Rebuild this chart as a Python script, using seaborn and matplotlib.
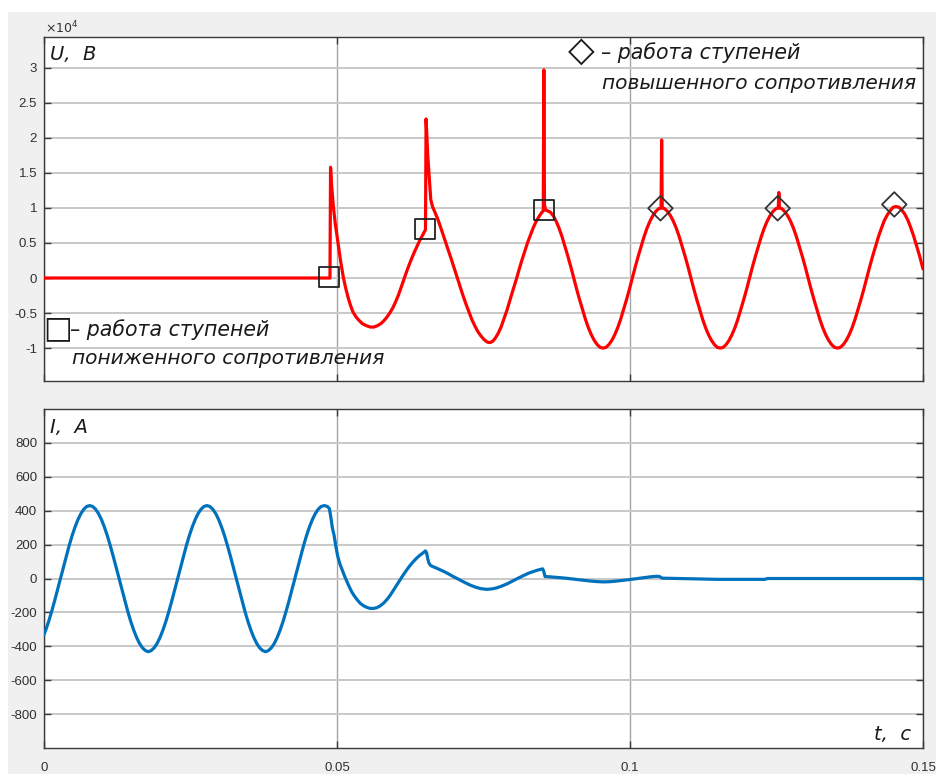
import matplotlib
matplotlib.use("Agg")
import matplotlib.pyplot as plt
import seaborn as sns
import pandas as pd
from matplotlib.patches import Rectangle

# ---------------- data ----------------
# Voltage U, in units of 1e4 V : (t [s], U)
u_transient = [
    (0.0000, 0.00), (0.0488, 0.00), (0.0489, 1.58), (0.0491, 1.30), (0.0494, 1.00),
    (0.0497, 0.78), (0.0501, 0.54), (0.0506, 0.25), (0.0511, 0.00), (0.0515, -0.15),
    (0.0519, -0.28), (0.0523, -0.39), (0.0527, -0.48), (0.0532, -0.55), (0.0537, -0.60),
    (0.0543, -0.65), (0.0550, -0.68), (0.0557, -0.70), (0.0563, -0.70), (0.0569, -0.68),
    (0.0575, -0.65), (0.0580, -0.61), (0.0585, -0.56), (0.0590, -0.50), (0.0595, -0.43),
    (0.0600, -0.34), (0.0605, -0.24), (0.0610, -0.12), (0.0614, -0.02), (0.0620, 0.12),
    (0.0626, 0.25), (0.0632, 0.37), (0.0638, 0.48), (0.0642, 0.55), (0.0646, 0.61),
    (0.0651, 0.69), (0.0652, 2.27), (0.0655, 1.73), (0.0660, 1.12), (0.0663, 1.02),
    (0.0667, 0.94), (0.0672, 0.84), (0.0677, 0.72), (0.0683, 0.57), (0.0689, 0.42),
    (0.0695, 0.27), (0.0700, 0.14), (0.0705, 0.01), (0.0710, -0.12), (0.0715, -0.25),
    (0.0720, -0.37), (0.0725, -0.48), (0.0730, -0.59), (0.0735, -0.68), (0.0740, -0.76),
    (0.0745, -0.82), (0.0750, -0.87), (0.0754, -0.90), (0.0758, -0.92), (0.0762, -0.92),
    (0.0766, -0.90), (0.0770, -0.86), (0.0775, -0.79), (0.0780, -0.70), (0.0785, -0.58),
    (0.0790, -0.46), (0.0795, -0.32), (0.0800, -0.18), (0.0806, -0.02), (0.0810, 0.10),
    (0.0815, 0.24), (0.0820, 0.37), (0.0825, 0.50), (0.0830, 0.61), (0.0835, 0.72),
    (0.0840, 0.81), (0.0845, 0.88), (0.0849, 0.93), (0.0852, 0.96), (0.0853, 2.97),
    (0.0854, 1.05), (0.0856, 0.97),
]
u_cycle1 = [
    (0.0859, 0.96), (0.0864, 0.94), (0.0869, 0.89), (0.0874, 0.81), (0.0879, 0.71),
    (0.0884, 0.59), (0.0889, 0.45), (0.0894, 0.31), (0.0899, 0.16), (0.0904, 0.00),
    (0.0909, -0.16), (0.0914, -0.31), (0.0919, -0.45), (0.0924, -0.59), (0.0929, -0.71),
    (0.0934, -0.81), (0.0939, -0.89), (0.0944, -0.95), (0.0949, -0.99), (0.0954, -1.00),
    (0.0959, -0.99), (0.0964, -0.95), (0.0969, -0.89), (0.0974, -0.81), (0.0979, -0.71),
    (0.0984, -0.59), (0.0989, -0.45), (0.0994, -0.31), (0.0999, -0.16), (0.1004, 0.00),
    (0.1009, 0.16), (0.1014, 0.31), (0.1019, 0.45), (0.1024, 0.59), (0.1029, 0.71),
    (0.1034, 0.81), (0.1039, 0.89), (0.1044, 0.95), (0.1049, 0.99), (0.1053, 1.00),
    (0.1054, 1.97), (0.1055, 1.00),
]
u_cycle2 = [
    (0.1059, 0.99), (0.1064, 0.95), (0.1069, 0.89), (0.1074, 0.81), (0.1079, 0.71),
    (0.1084, 0.59), (0.1089, 0.45), (0.1094, 0.31), (0.1099, 0.16), (0.1104, 0.00),
    (0.1109, -0.16), (0.1114, -0.31), (0.1119, -0.45), (0.1124, -0.59), (0.1129, -0.71),
    (0.1134, -0.81), (0.1139, -0.89), (0.1144, -0.95), (0.1149, -0.99), (0.1154, -1.00),
    (0.1159, -0.99), (0.1164, -0.95), (0.1169, -0.89), (0.1174, -0.81), (0.1179, -0.71),
    (0.1184, -0.59), (0.1189, -0.45), (0.1194, -0.31), (0.1199, -0.16), (0.1204, 0.00),
    (0.1209, 0.16), (0.1214, 0.31), (0.1219, 0.45), (0.1224, 0.59), (0.1229, 0.71),
    (0.1234, 0.81), (0.1239, 0.89), (0.1244, 0.95), (0.1249, 0.99), (0.1253, 1.00),
    (0.1254, 1.22), (0.1255, 1.00),
]
u_cycle3 = [
    (0.1259, 0.99), (0.1264, 0.95), (0.1269, 0.89), (0.1274, 0.81), (0.1279, 0.71),
    (0.1284, 0.59), (0.1289, 0.45), (0.1294, 0.31), (0.1299, 0.16), (0.1304, 0.00),
    (0.1309, -0.16), (0.1314, -0.31), (0.1319, -0.45), (0.1324, -0.59), (0.1329, -0.71),
    (0.1334, -0.81), (0.1339, -0.89), (0.1344, -0.95), (0.1349, -0.99), (0.1354, -1.00),
    (0.1359, -0.99), (0.1364, -0.95), (0.1369, -0.89), (0.1374, -0.81), (0.1379, -0.71),
    (0.1384, -0.59), (0.1389, -0.45), (0.1394, -0.31), (0.1399, -0.16), (0.1404, 0.00),
    (0.1409, 0.16), (0.1414, 0.31), (0.1419, 0.45), (0.1424, 0.59), (0.1429, 0.71),
    (0.1434, 0.82), (0.1439, 0.90), (0.1444, 0.96), (0.1449, 1.01), (0.1454, 1.02),
    (0.1459, 1.01), (0.1464, 0.97), (0.1469, 0.91), (0.1474, 0.83), (0.1479, 0.72),
    (0.1484, 0.60), (0.1489, 0.46), (0.1494, 0.32), (0.1500, 0.13),
]

# Current I, A : (t [s], I)
i_before = [
    (0.0000, -331), (0.0003, -304), (0.0008, -253), (0.0013, -195), (0.0018, -133),
    (0.0023, -67), (0.0028, 0), (0.0033, 67), (0.0038, 133), (0.0043, 195),
    (0.0048, 253), (0.0053, 304), (0.0058, 348), (0.0063, 383), (0.0068, 409),
    (0.0073, 425), (0.0078, 430), (0.0083, 425), (0.0088, 409), (0.0093, 383),
    (0.0098, 348), (0.0103, 304), (0.0108, 253), (0.0113, 195), (0.0118, 133),
    (0.0123, 67), (0.0128, 0), (0.0133, -67), (0.0138, -133), (0.0143, -195),
    (0.0148, -253), (0.0153, -304), (0.0158, -348), (0.0163, -383), (0.0168, -409),
    (0.0173, -425), (0.0178, -432), (0.0183, -425), (0.0188, -409), (0.0193, -383),
    (0.0198, -348), (0.0203, -304), (0.0208, -253), (0.0213, -195), (0.0218, -133),
    (0.0223, -67), (0.0228, 0), (0.0233, 67), (0.0238, 133), (0.0243, 195),
    (0.0248, 253), (0.0253, 304), (0.0258, 348), (0.0263, 383), (0.0268, 409),
    (0.0273, 425), (0.0278, 430), (0.0283, 425), (0.0288, 409), (0.0293, 383),
    (0.0298, 348), (0.0303, 304), (0.0308, 253), (0.0313, 195), (0.0318, 133),
    (0.0323, 67), (0.0328, 0), (0.0333, -67), (0.0338, -133), (0.0343, -195),
    (0.0348, -253), (0.0353, -304), (0.0358, -348), (0.0363, -383), (0.0368, -409),
    (0.0373, -425), (0.0378, -432), (0.0383, -425), (0.0388, -409), (0.0393, -383),
    (0.0398, -348), (0.0403, -304), (0.0408, -253), (0.0413, -195), (0.0418, -133),
    (0.0423, -67), (0.0428, 0), (0.0433, 67), (0.0438, 133), (0.0443, 195),
    (0.0448, 253), (0.0453, 304), (0.0458, 348), (0.0463, 383), (0.0468, 409),
    (0.0473, 425), (0.0478, 430),
]
i_after = [
    (0.0481, 428), (0.0484, 424), (0.0487, 412), (0.0490, 350), (0.0492, 300),
    (0.0495, 255), (0.0498, 190), (0.0501, 135), (0.0505, 85), (0.0509, 50),
    (0.0514, 5), (0.0520, -42), (0.0525, -78), (0.0530, -105), (0.0535, -128),
    (0.0540, -147), (0.0545, -160), (0.0550, -169), (0.0556, -176), (0.0562, -177),
    (0.0568, -172), (0.0573, -163), (0.0579, -147), (0.0585, -125), (0.0591, -98),
    (0.0597, -66), (0.0603, -33), (0.0610, 5), (0.0616, 36), (0.0622, 65),
    (0.0628, 91), (0.0635, 117), (0.0640, 133), (0.0645, 146), (0.0649, 157),
    (0.0651, 163), (0.0653, 150), (0.0655, 115), (0.0657, 90), (0.0660, 76),
    (0.0665, 68), (0.0670, 61), (0.0675, 53), (0.0682, 42), (0.0690, 28),
    (0.0697, 14), (0.0705, 0), (0.0712, -13), (0.0720, -27), (0.0728, -40),
    (0.0738, -53), (0.0746, -60), (0.0755, -64), (0.0763, -62), (0.0772, -56),
    (0.0781, -45), (0.0790, -32), (0.0799, -16), (0.0808, 0), (0.0817, 15),
    (0.0826, 30), (0.0834, 40), (0.0842, 49), (0.0848, 54), (0.0851, 57),
    (0.0853, 40), (0.0855, 12), (0.0870, 8), (0.0890, 2), (0.0910, -6),
    (0.0930, -14), (0.0942, -18), (0.0954, -20), (0.0965, -19), (0.0975, -16),
    (0.0988, -11), (0.1000, -6), (0.1013, 0), (0.1025, 6), (0.1035, 10),
    (0.1045, 13), (0.1050, 12), (0.1055, 2), (0.1080, 0), (0.1100, -2),
    (0.1150, -5), (0.1230, -5), (0.1235, 0), (0.1500, 0),
]

# Marked points
low_t = [0.0487, 0.0650, 0.0853]     # squares: low-resistance steps
low_u = [0.01, 0.70, 0.97]
high_t = [0.1052, 0.1252, 0.1451]    # diamonds: high-resistance steps
high_u = [0.995, 0.995, 1.05]

x_ticks = [0, 0.05, 0.1, 0.15]
x_labels = ["0", "0.05", "0.1", "0.15"]
u_ticks = [-1, -0.5, 0, 0.5, 1, 1.5, 2, 2.5, 3]
u_labels = ["-1", "-0.5", "0", "0.5", "1", "1.5", "2", "2.5", "3"]
i_ticks = [-800, -600, -400, -200, 0, 200, 400, 600, 800]
i_labels = ["-800", "-600", "-400", "-200", "0", "200", "400", "600", "800"]

# ---------------- style ----------------
sns.set_style("white")
plt.rcParams["font.family"] = ["Liberation Sans", "DejaVu Sans"]
plt.rcParams["axes.unicode_minus"] = False

W, H = 937, 774
fig = plt.figure(figsize=(W / 100, H / 100), dpi=100)
fig.patch.set_facecolor("#f0f0f0")
fig.patches.append(Rectangle((0, 1 - 12 / H), 1, 12 / H, transform=fig.transFigure,
                             facecolor="white", edgecolor="none", zorder=-5))
fig.patches.append(Rectangle((0, 0), 8 / W, 1, transform=fig.transFigure,
                             facecolor="white", edgecolor="none", zorder=-5))


def axes_px(left, top, right, bottom):
    return fig.add_axes([left / W, 1 - bottom / H, (right - left) / W, (bottom - top) / H])


ax1 = axes_px(44, 37, 923, 381)
ax2 = axes_px(44, 409, 923, 748)

df_u = pd.DataFrame(u_transient + u_cycle1 + u_cycle2 + u_cycle3, columns=["t", "U"])
df_i = pd.DataFrame(i_before + i_after, columns=["t", "I"])

sns.lineplot(data=df_u, x="t", y="U", ax=ax1, color="#ff0000", linewidth=2.3,
             estimator=None, sort=False, zorder=3)
sns.scatterplot(x=low_t, y=low_u, ax=ax1, marker="s", s=14.4 ** 2,
                facecolor="none", edgecolor="#222222", linewidth=1.3, zorder=4)
sns.scatterplot(x=high_t, y=high_u, ax=ax1, marker="D", s=12.5 ** 2,
                facecolor="none", edgecolor="#333333", linewidth=1.3, zorder=4)

sns.lineplot(data=df_i, x="t", y="I", ax=ax2, color="#0072BD", linewidth=2.3,
             estimator=None, sort=False, zorder=3)

for ax, yt, yl, ylim in [(ax1, u_ticks, u_labels, (-1.47, 3.44)),
                         (ax2, i_ticks, i_labels, (-1000, 1000))]:
    ax.set_xlim(0, 0.15)
    ax.set_ylim(*ylim)
    ax.set_xticks(x_ticks)
    ax.set_yticks(yt)
    ax.set_yticklabels(yl)
    ax.set_xlabel("")
    ax.set_ylabel("")
    ax.set_facecolor("white")
    ax.set_axisbelow(True)
    ax.yaxis.grid(True, color="#c8c8c8", linewidth=1.4)
    ax.xaxis.grid(True, color="#a4a4a4", linewidth=1.0)
    for sp in ax.spines.values():
        sp.set_visible(True)
        sp.set_color("#3a3a3a")
        sp.set_linewidth(1.0)
    ax.tick_params(axis="both", direction="in", length=5, width=1.0, color="#3a3a3a",
                   labelsize=9.5, labelcolor="#303030", left=True, right=True,
                   top=True, bottom=True)
    ax.tick_params(axis="y", pad=5)
    ax.tick_params(axis="x", pad=10)

ax1.set_xticklabels([])
ax2.set_xticklabels(x_labels)


def ftxt(x, y, s, **kw):
    kw.setdefault("va", "baseline")
    kw.setdefault("ha", "left")
    kw.setdefault("color", "#1a1a1a")
    fig.text(x / W, 1 - y / H, s, **kw)


gost = dict(family=["DejaVu Sans"], style="italic")
ftxt(45, 33, r"$\times10^{4}$", fontsize=9, color="#333333")
ftxt(50, 60, "U,  B", fontsize=14, **gost)
ftxt(50, 433, "I,  A", fontsize=14, **gost)
ftxt(874, 740, "t,  c", fontsize=14, **gost)

ftxt(581, 51, "◇", fontsize=25, ha="center", va="center", family=["DejaVu Sans"])
ftxt(601, 59, "– работа ступеней", fontsize=14.8, **gost)
ftxt(602, 89, "повышенного сопротивления", fontsize=14.5, **gost)

ftxt(58, 329, "□", fontsize=22, ha="center", va="center", family=["DejaVu Sans"])
ftxt(70, 336, "– работа ступеней", fontsize=14.8, **gost)
ftxt(72, 364, "пониженного сопротивления", fontsize=14.5, **gost)

fig.savefig("out.png", dpi=100, facecolor=fig.get_facecolor())
